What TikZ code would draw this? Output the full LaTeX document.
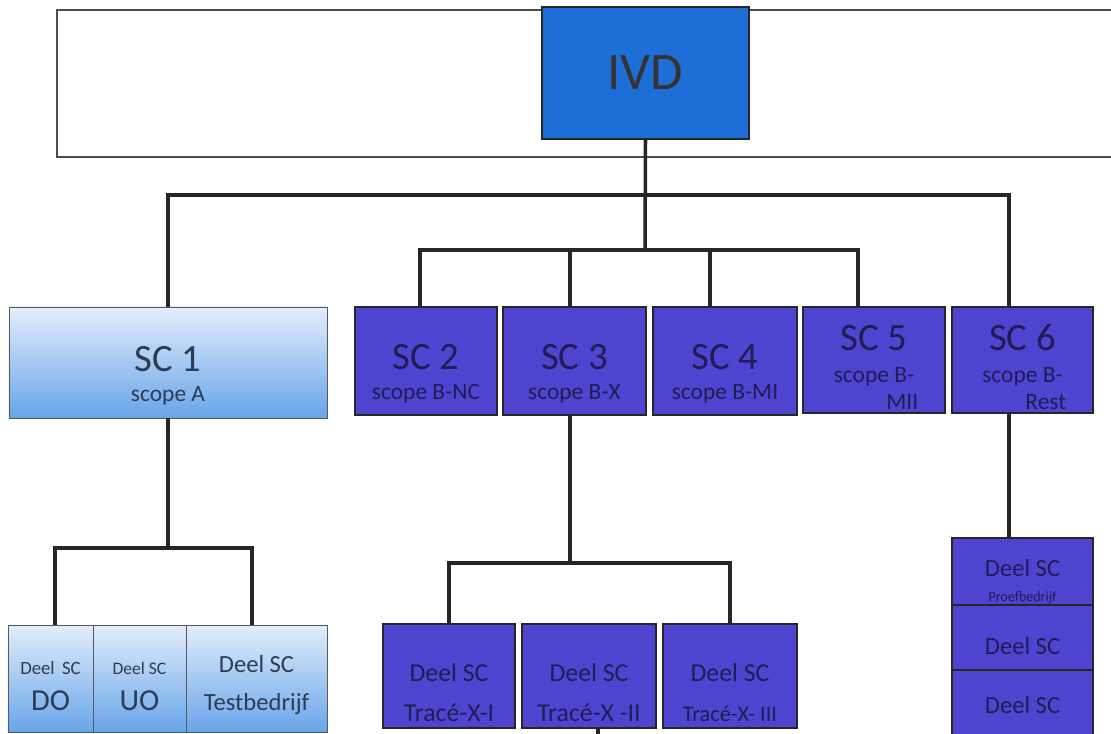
\documentclass[tikz,border=0pt]{standalone}
\usepackage{fontspec}
\setmainfont{Carlito}

\definecolor{ivdblue}{RGB}{30,110,215}
\definecolor{scpurple}{RGB}{78,68,208}
\definecolor{navytext}{RGB}{30,30,85}
\definecolor{lighttop}{RGB}{226,238,250}
\definecolor{lightbottom}{RGB}{104,164,234}
\definecolor{lighttext}{RGB}{45,60,85}

\newcommand{\sctitle}{\fontsize{33}{34}\selectfont}
\newcommand{\scsub}{\fontsize{20}{22}\selectfont}
\newcommand{\padtop}[1]{\rule{0pt}{#1}}

\tikzset{
  conn/.style={line width=3pt, black!85},
  frame/.style={line width=1pt, gray!60!black},
  purplebox/.style={draw=black!85, line width=2pt, fill=scpurple, text=navytext,
    align=center, inner sep=0pt},
  lightbox/.style={draw=gray!70!black, line width=0.8pt, top color=lighttop,
    bottom color=lightbottom, text=lighttext, align=center, inner sep=0pt},
}

\begin{document}
\begin{tikzpicture}[x=0.03cm, y=-0.03cm]
\useasboundingbox (0,0) rectangle (1111,734);

% Kader bovenaan
\draw[frame] (57,10) rectangle (1130,157);

% IVD
\node[draw=black!85, line width=2pt, fill=ivdblue, text=black!80,
  minimum width=6.21cm, minimum height=3.96cm, font=\fontsize{45}{50}\selectfont]
  (ivd) at (645.5,73) {IVD};

% Stuurcomites
\node[lightbox, minimum width=9.54cm, minimum height=3.33cm, font=\scsub]
  (sc1) at (168,362.5) {\padtop{44pt}{\sctitle SC 1}\\[3.5pt]scope A};
\node[purplebox, minimum width=4.26cm, minimum height=3.24cm, font=\scsub]
  (sc2) at (426,361) {\padtop{44pt}{\sctitle SC 2}\\[3.5pt]scope B-NC};
\node[purplebox, minimum width=4.29cm, minimum height=3.24cm, font=\scsub]
  (sc3) at (574.5,361) {\padtop{44pt}{\sctitle SC 3}\\[3.5pt]scope B-X};
\node[purplebox, minimum width=4.32cm, minimum height=3.24cm, font=\scsub]
  (sc4) at (725,361) {\padtop{44pt}{\sctitle SC 4}\\[3.5pt]scope B-MI};
\node[purplebox, minimum width=4.26cm, minimum height=3.18cm, font=\scsub]
  (sc5) at (874,360) {\padtop{34pt}{\sctitle SC 5}\\[5pt]scope B-\\[1pt]\hspace*{1.7cm}MII};
\node[purplebox, minimum width=4.23cm, minimum height=3.18cm, font=\scsub]
  (sc6) at (1022.5,360) {\padtop{34pt}{\sctitle SC 6}\\[5pt]scope B-\\[1pt]\hspace*{1.4cm}Rest};

% Deel SC onder SC 1
\node[lightbox, minimum width=2.55cm, minimum height=3.21cm, font=\fontsize{26}{30}\selectfont]
  (deeldo) at (50.5,678.5) {\padtop{24pt}{\fontsize{16}{18}\selectfont Deel\, SC}\\DO};
\node[lightbox, minimum width=2.79cm, minimum height=3.21cm, font=\fontsize{26}{30}\selectfont]
  (deeluo) at (139.5,678.5) {\padtop{24pt}{\fontsize{15}{18}\selectfont Deel SC}\\UO};
\node[lightbox, minimum width=4.23cm, minimum height=3.21cm, font=\fontsize{21}{32}\selectfont]
  (deeltest) at (256.5,678.5) {\padtop{26pt}Deel SC\\Testbedrijf};

% Deel SC onder SC 3
\node[purplebox, minimum width=3.96cm, minimum height=3.12cm, font=\fontsize{22}{34}\selectfont]
  (trace1) at (449,676) {\padtop{44pt}Deel SC\\Tracé-X-I};
\node[purplebox, minimum width=4.02cm, minimum height=3.12cm, font=\fontsize{22}{34}\selectfont]
  (trace2) at (589,676) {\padtop{44pt}Deel SC\\Tracé-X -II};
\node[purplebox, minimum width=4.02cm, minimum height=3.12cm, font=\fontsize{22}{34}\selectfont]
  (trace3) at (730,676) {\padtop{44pt}Deel SC\\{\fontsize{19}{20}\selectfont Tracé-X- III}};

% Deel SC onder SC 6
\node[purplebox, minimum width=4.23cm, minimum height=2.01cm, font=\fontsize{21}{24}\selectfont]
  (deel1) at (1022.5,571.5) {\padtop{32pt}Deel SC\\[-3pt]{\fontsize{12}{14}\selectfont Proefbedrijf}};
\node[purplebox, minimum width=4.23cm, minimum height=1.95cm, font=\fontsize{21}{24}\selectfont]
  (deel2) at (1022.5,637.5) {\padtop{29pt}Deel SC};
\node[purplebox, minimum width=4.23cm, minimum height=2.1cm, font=\fontsize{21}{24}\selectfont]
  (deel3) at (1022.5,705) {Deel SC};

% Verbindingen
\coordinate (topbus) at (645,195);
\coordinate (midbus) at (645,250);
\coordinate (scabus) at (168,548);
\coordinate (txbus) at (570,563);
\coordinate (offpage) at (598,745);

\draw[conn] (ivd.south) -- (midbus);
\draw[conn] (sc1.north) |- (topbus) -| ([xshift=-0.405cm]sc6.north);
\draw[conn] ([xshift=-0.18cm]sc2.north) |- (midbus) -| ([xshift=-0.48cm]sc5.north);
\draw[conn] ([xshift=-0.135cm]sc3.north) |- (midbus);
\draw[conn] ([xshift=-0.45cm]sc4.north) |- (midbus);

\draw[conn] (sc1.south) -- (scabus);
\draw[conn] ([xshift=0.135cm]deeldo.north) |- (scabus) -| ([xshift=-0.135cm]deeltest.north);

\draw[conn] ([xshift=-0.135cm]sc3.south) -- (txbus);
\draw[conn] (trace1.north) |- (txbus) -| (trace3.north);
\draw[conn] ([xshift=0.27cm]trace2.south) -- (offpage);

\draw[conn] ([xshift=-0.405cm]sc6.south) -- ([xshift=-0.405cm]deel1.north);

\end{tikzpicture}
\end{document}
